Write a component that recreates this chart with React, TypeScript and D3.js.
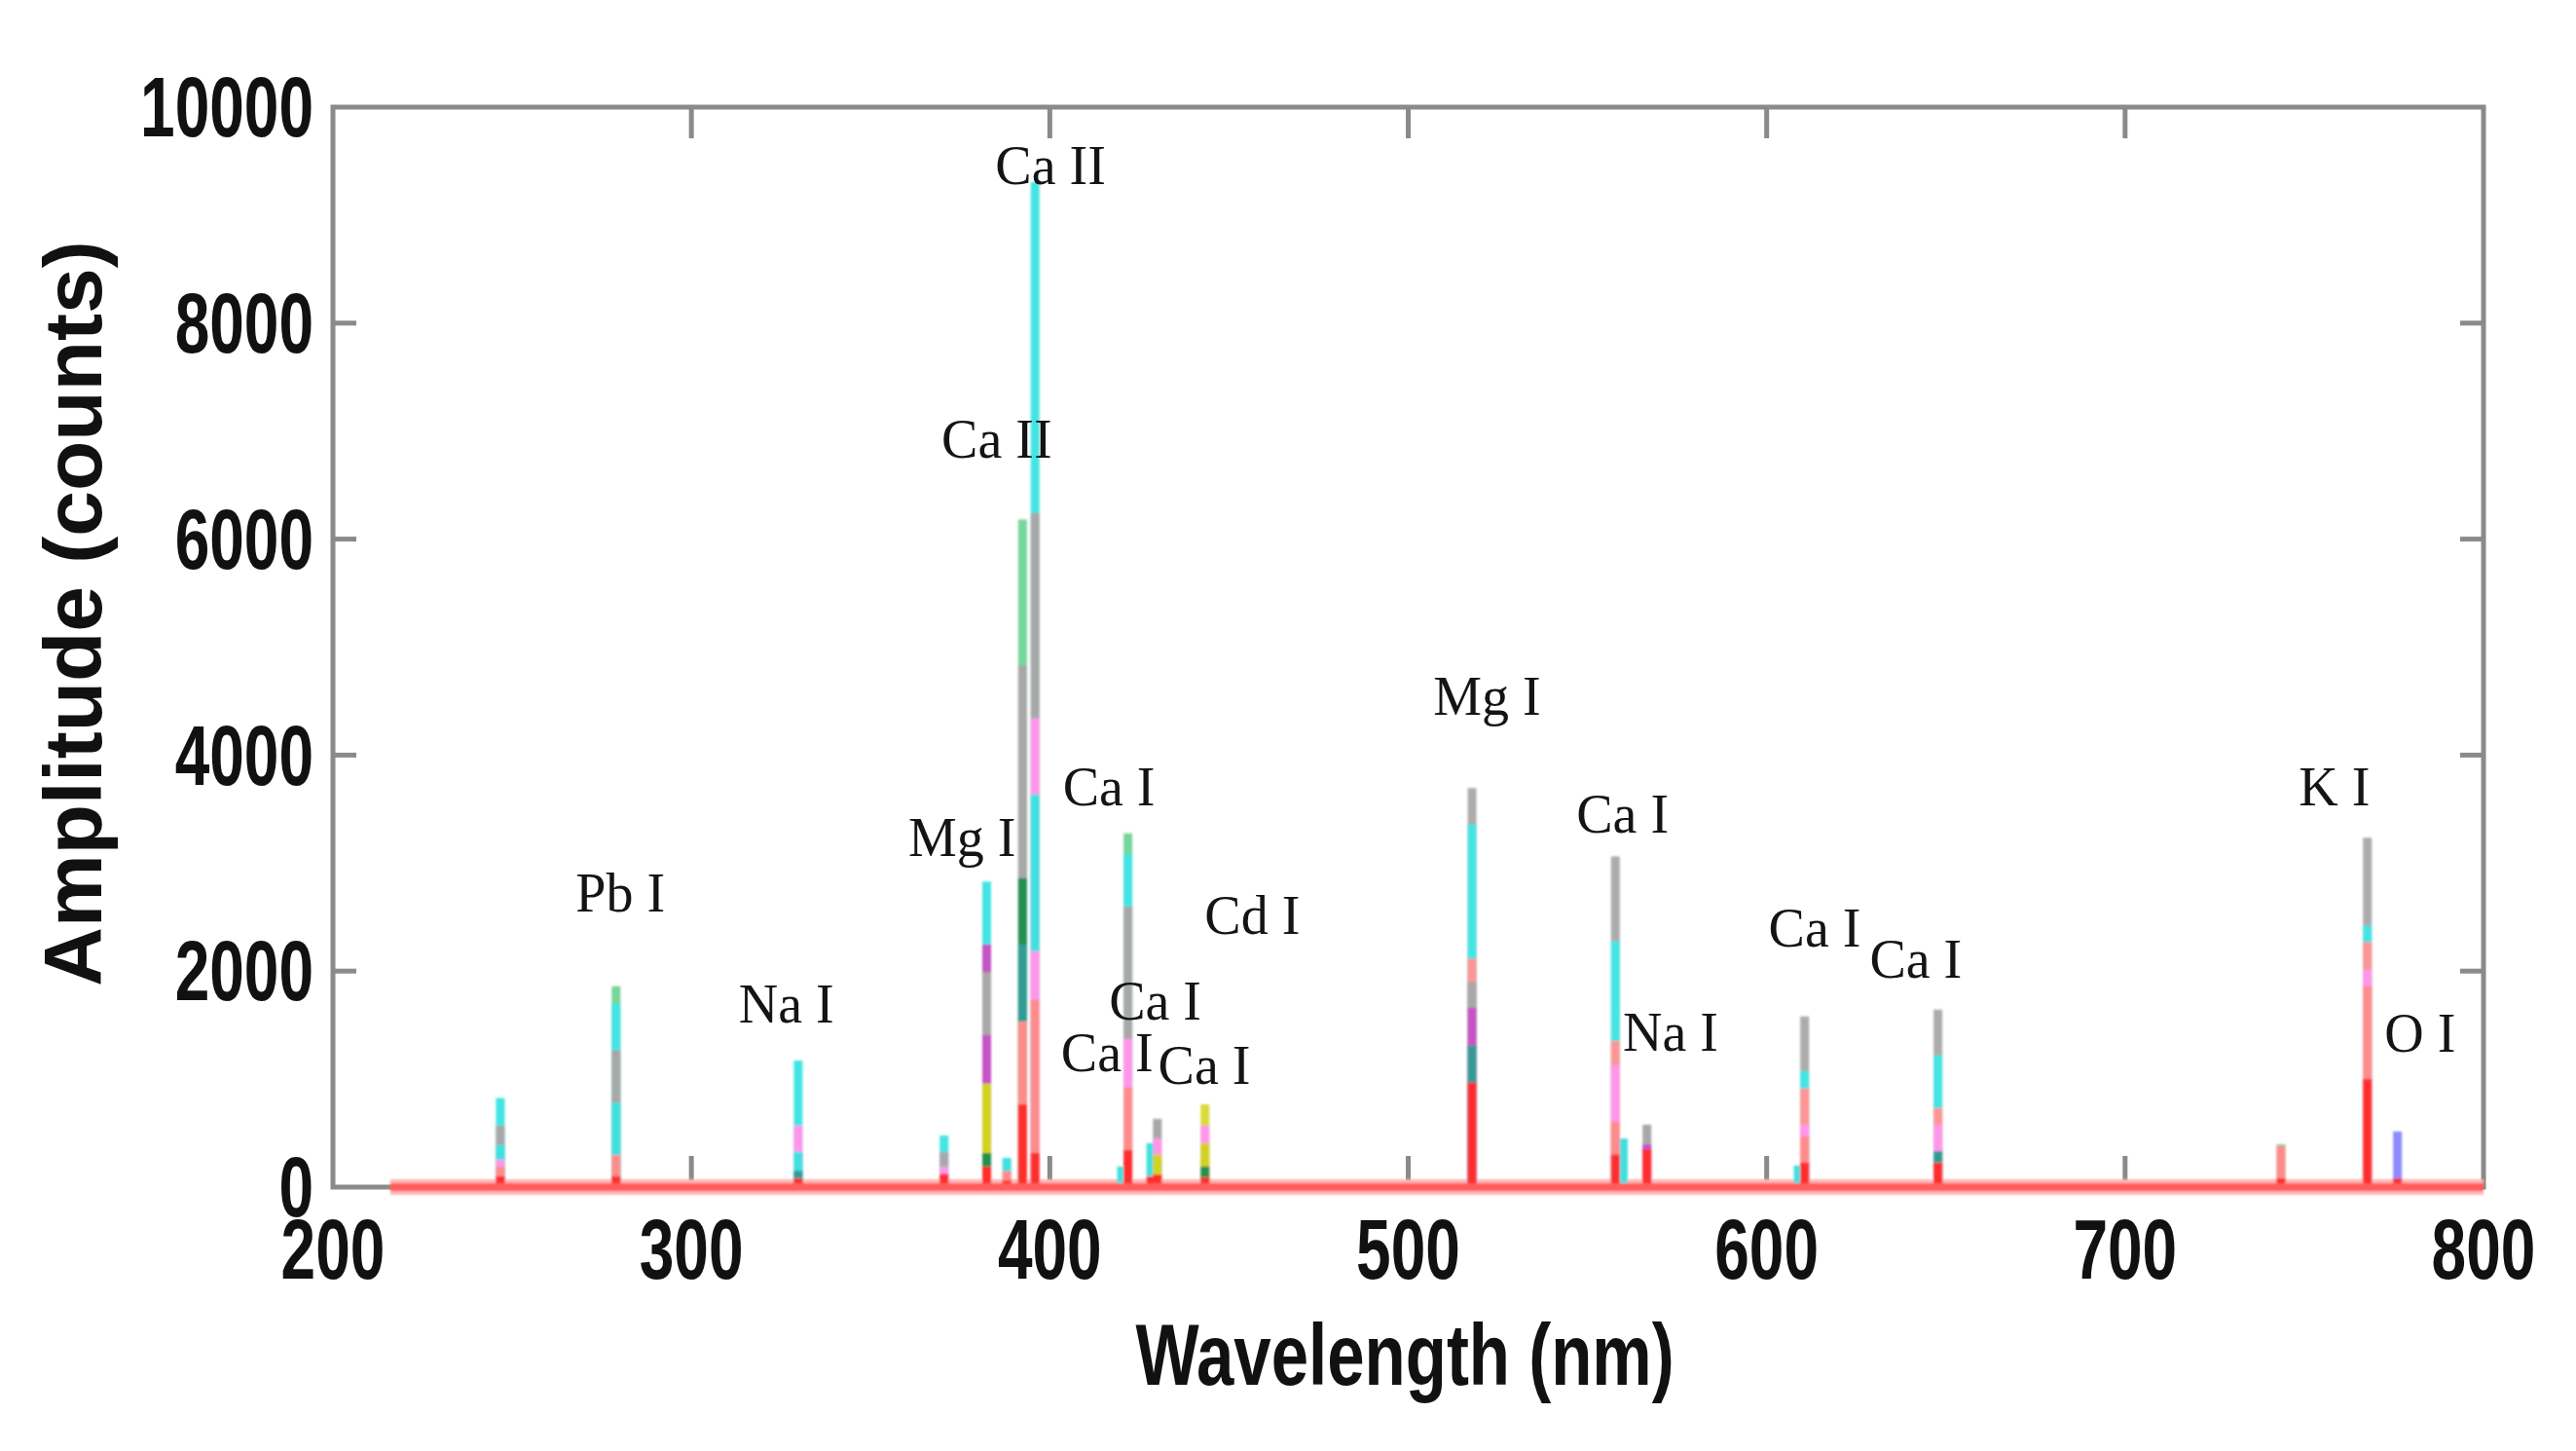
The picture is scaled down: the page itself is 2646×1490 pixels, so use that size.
import React from "react";
import * as d3 from "d3";

// emission line positions (nm)
const wavelengths = [
  246.7, 279, 329.8, 370.5, 382.4, 388, 392.4, 395.9, 420, 421.8, 428.2, 430,
  443.3, 517.8, 557.8, 560, 566.6, 608.8, 610.6, 647.8, 743.5, 767.6, 776,
];

// overlaid spectra, back to front; one amplitude per line position
const grayA = [0, 0, 0, 0, 0, 0, 0, 0, 0, 0, 0, 0, 0, 3695, 3062, 0, 0, 0, 1581, 1644, 0, 3234, 0];
const greenA = [0, 1860, 0, 0, 0, 0, 6182, 0, 0, 3276, 0, 0, 0, 0, 0, 0, 0, 0, 0, 0, 397, 0, 0];
const cyanA = [826, 1692, 1173, 478, 2828, 0, 0, 9305, 0, 3087, 0, 0, 0, 3360, 2276, 0, 0, 0, 1075, 1220, 0, 2421, 0];
const magentaA = [0, 0, 0, 0, 2247, 0, 0, 0, 0, 0, 0, 0, 0, 0, 0, 0, 0, 0, 0, 0, 0, 0, 0];
const yellowA = [0, 0, 0, 0, 0, 0, 0, 0, 0, 0, 0, 0, 767, 0, 0, 0, 0, 0, 0, 0, 0, 0, 0];
const salmonA = [0, 0, 0, 0, 0, 0, 0, 0, 0, 0, 0, 0, 0, 2114, 1355, 0, 0, 0, 912, 732, 0, 2267, 0];
const grayB = [569, 1267, 0, 325, 1990, 0, 4828, 6245, 0, 2600, 0, 632, 0, 1897, 0, 0, 578, 0, 0, 0, 0, 0, 0];
const pinkA = [0, 0, 569, 0, 0, 0, 0, 4341, 0, 0, 0, 0, 0, 0, 0, 0, 0, 0, 0, 0, 0, 0, 0];
const cyanB = [388, 781, 325, 0, 0, 270, 0, 3637, 190, 0, 406, 0, 0, 0, 0, 450, 0, 200, 0, 0, 0, 0, 0];
const magentaB = [0, 0, 0, 0, 1408, 0, 0, 0, 0, 0, 0, 0, 0, 1662, 0, 0, 397, 0, 0, 0, 0, 0, 0];
const pinkB = [253, 0, 0, 190, 0, 0, 0, 2184, 0, 1372, 0, 450, 569, 0, 1130, 0, 0, 0, 578, 578, 0, 2014, 0];
const yellowB = [0, 0, 0, 0, 957, 0, 0, 0, 0, 0, 0, 300, 406, 0, 0, 0, 0, 0, 0, 0, 0, 0, 0];
const darkGreen = [0, 0, 0, 0, 315, 0, 2861, 0, 0, 0, 0, 0, 190, 0, 0, 0, 0, 0, 0, 0, 0, 0, 0];
const teal = [0, 0, 150, 0, 0, 0, 2247, 0, 0, 0, 0, 0, 0, 1310, 0, 0, 0, 0, 0, 334, 0, 0, 0];
const blue = [0, 0, 0, 0, 0, 0, 0, 0, 0, 0, 0, 0, 0, 0, 0, 0, 0, 0, 0, 0, 0, 0, 515];
const salmonB = [190, 298, 0, 0, 0, 150, 1534, 1733, 0, 921, 0, 0, 0, 0, 605, 0, 0, 0, 470, 0, 380, 1861, 0];
const red = [100, 100, 80, 120, 190, 60, 767, 316, 0, 343, 100, 117, 90, 967, 300, 0, 350, 0, 226, 226, 81, 1000, 80];

const series = [
  { values: grayA, color: "#acacac" },
  { values: greenA, color: "#76d69c" },
  { values: cyanA, color: "#44e4e4" },
  { values: magentaA, color: "#c455c4" },
  { values: yellowA, color: "#dada3a" },
  { values: salmonA, color: "#ff9494" },
  { values: grayB, color: "#a8a8a8" },
  { values: pinkA, color: "#ff96ea" },
  { values: cyanB, color: "#3fe0e0" },
  { values: magentaB, color: "#c853c8" },
  { values: pinkB, color: "#ff96ea" },
  { values: yellowB, color: "#d2d222" },
  { values: darkGreen, color: "#23904f" },
  { values: teal, color: "#309c94" },
  { values: blue, color: "#8c8cff" },
  { values: salmonB, color: "#ff8c8c" },
  { values: red, color: "#ff2e2e" },
];

const baselineRange = [216, 800];
const xTicks = [200, 300, 400, 500, 600, 700, 800];
const yTicks = [0, 2000, 4000, 6000, 8000, 10000];

// annotations: [text, wavelength, amplitude] at text baseline centre
const labelText = ["Ca II", "Ca II", "Mg I", "Ca I", "Pb I", "Na I", "Cd I", "Ca I", "Ca I", "Ca I", "Mg I", "Ca I", "Na I", "Ca I", "Ca I", "K I", "O I"];
const labelNm = [400.2, 385.2, 375.5, 416.5, 280.2, 326.5, 456.5, 429.4, 416, 443.1, 522, 559.8, 573.2, 613.4, 641.6, 758.4, 782.3];
const labelAmp = [9288, 6754, 3069, 3535, 2556, 1524, 2345, 1551, 1073, 956, 4373, 3282, 1262, 2231, 1939, 3537, 1253];

const W = 2646;
const H = 1490;
const left = 342;
const right = 2551;
const top = 110;
const bottom = 1219;
const axisColor = "#8a8a8a";

export default function App() {
  const x = d3.scaleLinear().domain([200, 800]).range([left, right]);
  const y = d3.scaleLinear().domain([0, 10000]).range([bottom, top]);

  const tickFont = {
    fontFamily: "'Liberation Sans', Arial, sans-serif",
    fontWeight: 700,
    fontSize: 64,
  };

  return (
    <svg
      width={W}
      height={H}
      viewBox={`0 0 ${W} ${H}`}
      style={{ position: "fixed", left: 0, top: 0, background: "#fff" }}
    >
      <defs>
        <filter id="soft" x="-5%" y="-5%" width="110%" height="110%">
          <feGaussianBlur stdDeviation="1.2" />
        </filter>
      </defs>
      <rect x={0} y={0} width={W} height={H} fill="#fff" />

      {/* frame */}
      <rect
        x={left}
        y={top}
        width={right - left}
        height={bottom - top}
        fill="none"
        stroke={axisColor}
        strokeWidth={5}
      />
      {xTicks.slice(1, -1).map((t) => (
        <g key={"xt" + t} stroke={axisColor} strokeWidth={5}>
          <line x1={x(t)} x2={x(t)} y1={bottom} y2={bottom - 32} />
          <line x1={x(t)} x2={x(t)} y1={top} y2={top + 32} />
        </g>
      ))}
      {yTicks.slice(1, -1).map((t) => (
        <g key={"yt" + t} stroke={axisColor} strokeWidth={5}>
          <line x1={left} x2={left + 24} y1={y(t)} y2={y(t)} />
          <line x1={right} x2={right - 24} y1={y(t)} y2={y(t)} />
        </g>
      ))}

      {/* spectra */}
      <g filter="url(#soft)">
        <line
          x1={x(baselineRange[0])}
          x2={x(baselineRange[1])}
          y1={y(0)}
          y2={y(0)}
          stroke="#ffb4b4"
          strokeWidth={16}
        />
        {series.map((s, si) => (
          <g key={"s" + si} stroke={s.color} strokeWidth={9}>
            {s.values.map((v, i) =>
              v > 0 ? (
                <line
                  key={i}
                  x1={x(wavelengths[i])}
                  x2={x(wavelengths[i])}
                  y1={y(0)}
                  y2={y(v)}
                />
              ) : null
            )}
          </g>
        ))}
        <line
          x1={x(baselineRange[0])}
          x2={x(baselineRange[1])}
          y1={y(0)}
          y2={y(0)}
          stroke="#ff5c5c"
          strokeWidth={8}
        />
      </g>

      {/* annotations */}
      {labelText.map((t, i) => (
        <text
          key={"l" + i}
          x={x(labelNm[i])}
          y={y(labelAmp[i])}
          textAnchor="middle"
          fontFamily="'Liberation Serif', 'Times New Roman', serif"
          fontSize={56}
          fill="#141414"
        >
          {t}
        </text>
      ))}

      {/* tick labels */}
      {yTicks.map((t) => (
        <text
          key={"yl" + t}
          transform={`translate(${left - 20},${y(t)}) scale(1,1.36)`}
          textAnchor="end"
          dominantBaseline="central"
          style={tickFont}
          fill="#111"
        >
          {t}
        </text>
      ))}
      {xTicks.map((t) => (
        <text
          key={"xl" + t}
          transform={`translate(${x(t)},1283) scale(1,1.36)`}
          textAnchor="middle"
          dominantBaseline="central"
          style={tickFont}
          fill="#111"
        >
          {t}
        </text>
      ))}

      {/* axis titles */}
      <text
        transform={`translate(1443,1422) scale(1,1.29)`}
        textAnchor="middle"
        style={{ ...tickFont, fontSize: 69 }}
        fill="#111"
      >
        Wavelength (nm)
      </text>
      <text
        transform={`translate(104,630) rotate(-90)`}
        textAnchor="middle"
        style={{ ...tickFont, fontSize: 84 }}
        fill="#111"
      >
        Amplitude (counts)
      </text>
    </svg>
  );
}
